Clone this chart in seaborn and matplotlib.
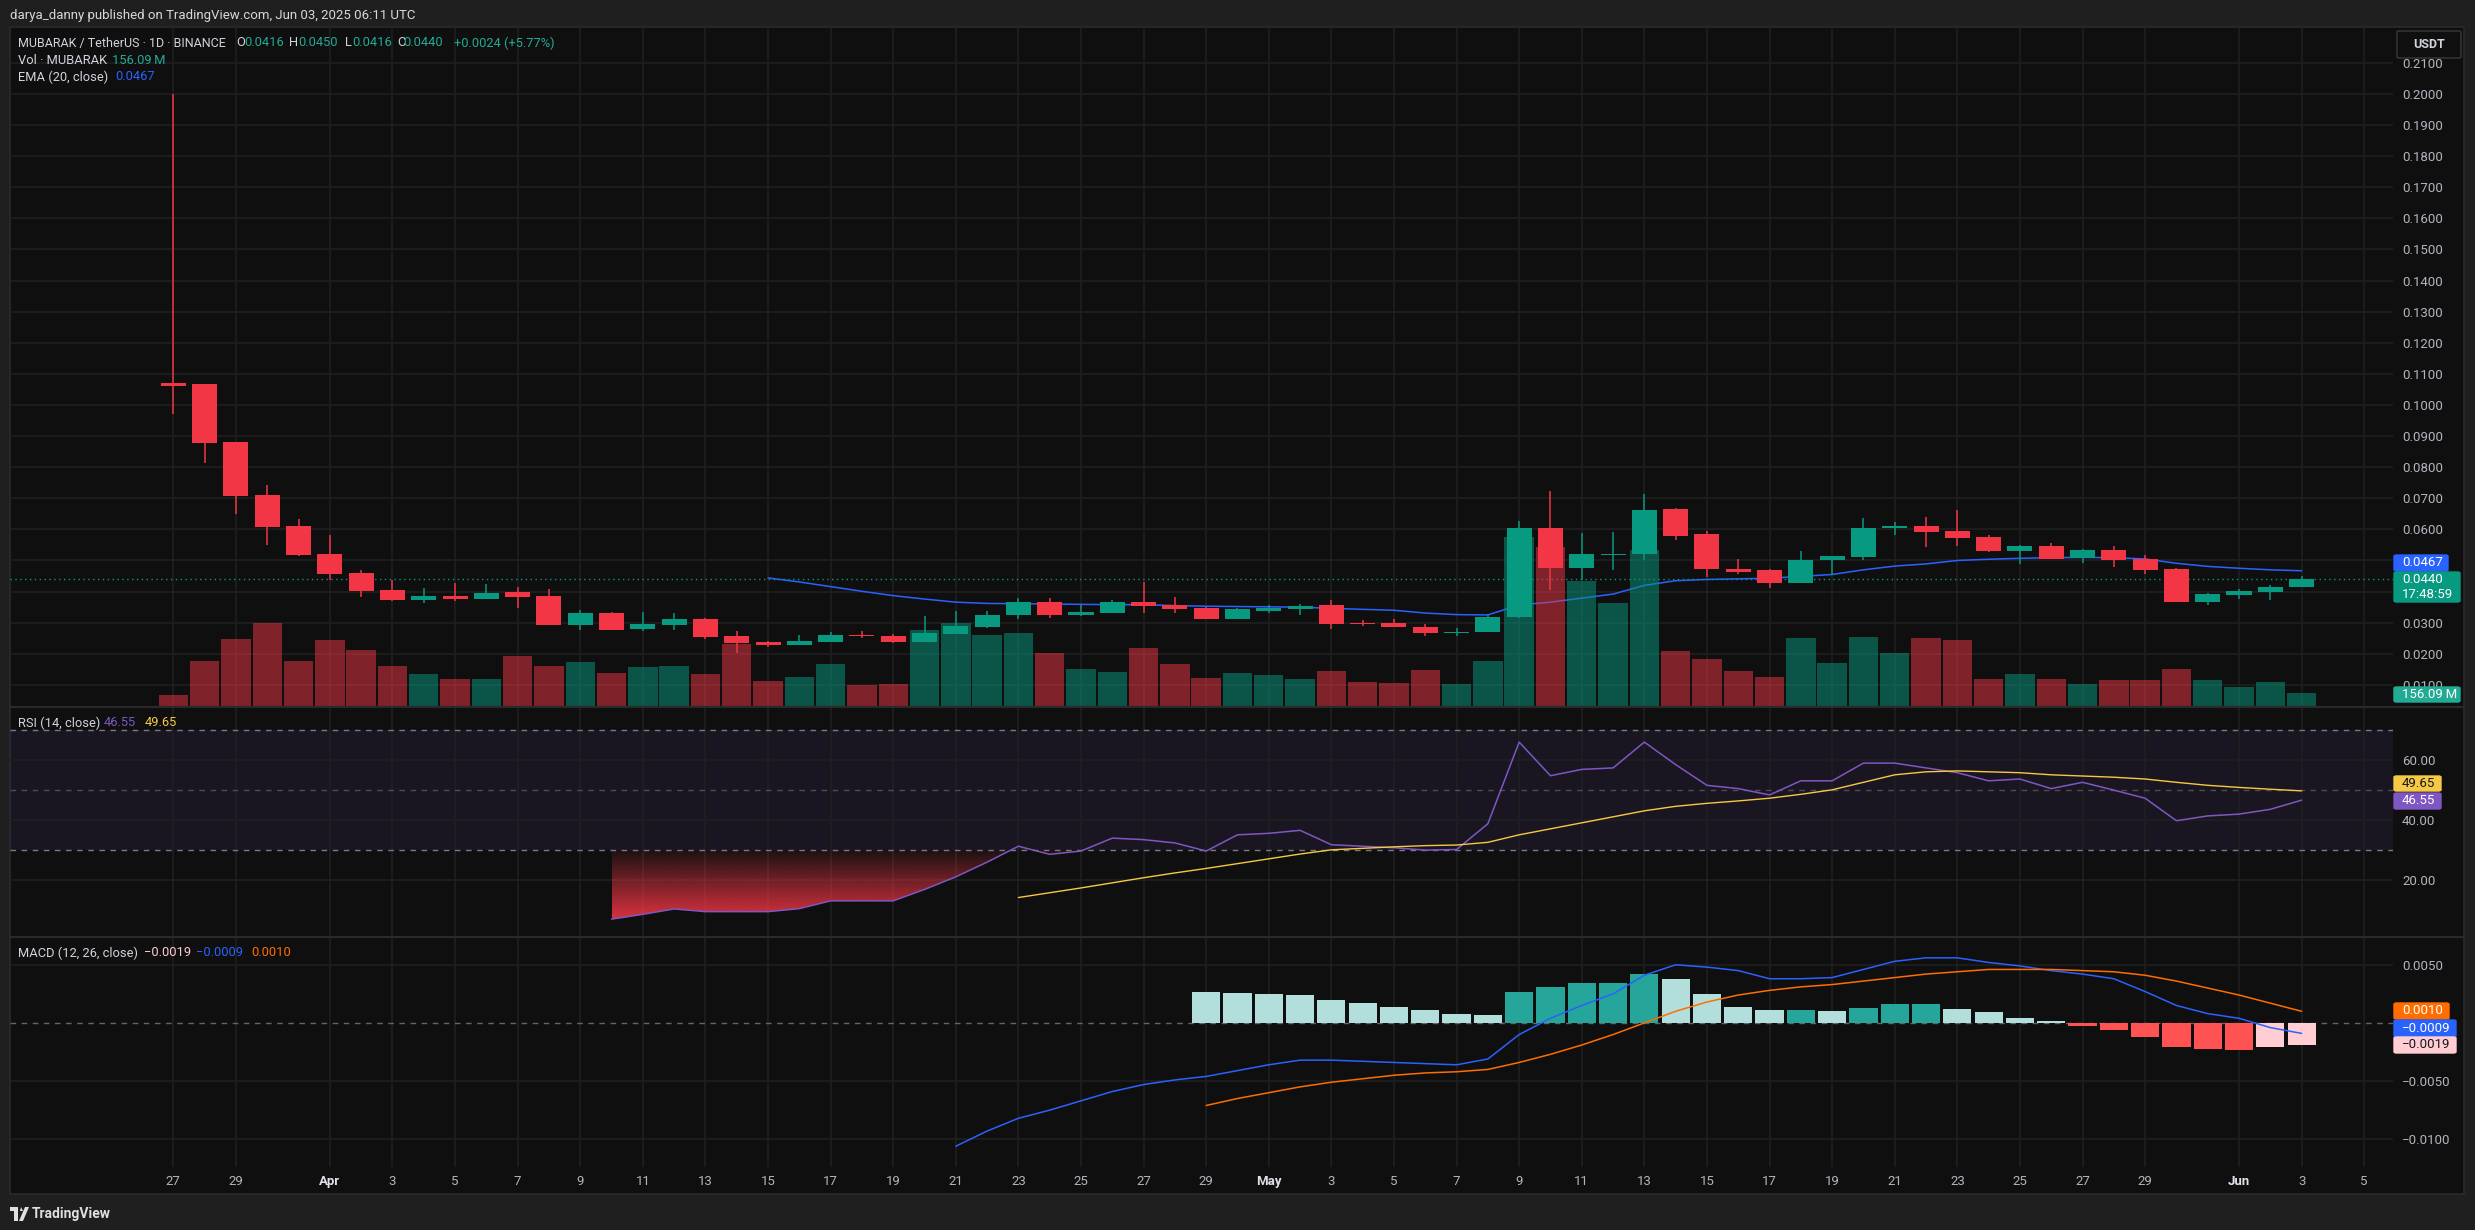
import numpy as np
import pandas as pd
import matplotlib
matplotlib.use("Agg")
import matplotlib.pyplot as plt
from matplotlib.patches import Rectangle, FancyBboxPatch, Polygon
from matplotlib.lines import Line2D
from matplotlib.colors import ListedColormap
from matplotlib.path import Path
import seaborn as sns

# ---------------- data ----------------
dates = pd.date_range("2025-03-27", "2025-06-03", freq="D")

open_ = [0.1072, 0.1066, 0.0882, 0.0711, 0.0611, 0.0520, 0.0459, 0.0404, 0.0372, 0.0385,
         0.0375, 0.0398, 0.0385, 0.0291, 0.0330, 0.0280, 0.0291, 0.0311, 0.0258, 0.0237,
         0.0227, 0.0237, 0.0260, 0.0257, 0.0237, 0.0263, 0.0286, 0.0325, 0.0366, 0.0324,
         0.0331, 0.0366, 0.0357, 0.0347, 0.0311, 0.0337, 0.0344, 0.0356, 0.0300, 0.0299,
         0.0286, 0.0267, 0.0270, 0.0317, 0.0603, 0.0477, 0.0517, 0.0520, 0.0667, 0.0584,
         0.0474, 0.0468, 0.0429, 0.0500, 0.0510, 0.0603, 0.0611, 0.0595, 0.0576, 0.0531,
         0.0547, 0.0509, 0.0534, 0.0505, 0.0473, 0.0367, 0.0390, 0.0400, 0.0416]
high = [0.2000, 0.1066, 0.0882, 0.0743, 0.0633, 0.0582, 0.0469, 0.0438, 0.0411, 0.0427,
        0.0424, 0.0414, 0.0408, 0.0340, 0.0333, 0.0333, 0.0330, 0.0314, 0.0272, 0.0240,
        0.0260, 0.0269, 0.0273, 0.0263, 0.0321, 0.0337, 0.0337, 0.0379, 0.0379, 0.0357,
        0.0373, 0.0431, 0.0383, 0.0350, 0.0347, 0.0357, 0.0360, 0.0372, 0.0308, 0.0312,
        0.0296, 0.0282, 0.0329, 0.0628, 0.0722, 0.0587, 0.0591, 0.0715, 0.0670, 0.0594,
        0.0506, 0.0474, 0.0529, 0.0516, 0.0635, 0.0624, 0.0640, 0.0663, 0.0582, 0.0550,
        0.0557, 0.0537, 0.0547, 0.0518, 0.0476, 0.0396, 0.0409, 0.0422, 0.0450]
low = [0.0970, 0.0814, 0.0650, 0.0550, 0.0514, 0.0438, 0.0382, 0.0369, 0.0362, 0.0369,
       0.0375, 0.0346, 0.0291, 0.0278, 0.0278, 0.0272, 0.0278, 0.0246, 0.0204, 0.0221,
       0.0227, 0.0237, 0.0250, 0.0234, 0.0237, 0.0263, 0.0282, 0.0311, 0.0315, 0.0321,
       0.0331, 0.0331, 0.0331, 0.0311, 0.0311, 0.0331, 0.0324, 0.0281, 0.0290, 0.0286,
       0.0257, 0.0257, 0.0270, 0.0314, 0.0406, 0.0436, 0.0471, 0.0500, 0.0567, 0.0448,
       0.0455, 0.0413, 0.0429, 0.0452, 0.0500, 0.0582, 0.0544, 0.0547, 0.0528, 0.0489,
       0.0505, 0.0493, 0.0480, 0.0457, 0.0367, 0.0358, 0.0377, 0.0374, 0.0416]
close = [0.1060, 0.0878, 0.0708, 0.0608, 0.0517, 0.0456, 0.0401, 0.0372, 0.0385, 0.0375,
         0.0395, 0.0382, 0.0291, 0.0330, 0.0278, 0.0295, 0.0311, 0.0253, 0.0235, 0.0227,
         0.0240, 0.0260, 0.0257, 0.0237, 0.0266, 0.0289, 0.0324, 0.0366, 0.0324, 0.0334,
         0.0366, 0.0354, 0.0344, 0.0311, 0.0344, 0.0347, 0.0354, 0.0296, 0.0297, 0.0286,
         0.0267, 0.0270, 0.0319, 0.0603, 0.0477, 0.0521, 0.0521, 0.0663, 0.0580, 0.0474,
         0.0464, 0.0429, 0.0503, 0.0513, 0.0603, 0.0611, 0.0592, 0.0573, 0.0531, 0.0547,
         0.0505, 0.0534, 0.0502, 0.0470, 0.0367, 0.0393, 0.0403, 0.0416, 0.0440]
volume_m = [134, 513, 758, 936, 513, 747, 635, 457, 368, 312,
            312, 569, 457, 502, 379, 446, 457, 368, 706, 294,
            338, 483, 249, 260, 862, 940, 806, 829, 606, 427,
            394, 661, 483, 327, 383, 360, 316, 405, 282, 271,
            416, 260, 517, 1899, 1787, 1408, 1163, 1754, 628, 539,
            405, 338, 773, 494, 784, 606, 769, 747, 312, 368,
            312, 256, 301, 301, 424, 301, 223, 279, 156.09]

# EMA(20) from Apr 15
ema20 = [0.0444, 0.0431, 0.0416, 0.0401, 0.0387, 0.0376, 0.0366, 0.0362, 0.0361, 0.0360,
         0.0359, 0.0358, 0.0358, 0.0355, 0.0353, 0.0352, 0.0351, 0.0350, 0.0346, 0.0343,
         0.0340, 0.0331, 0.0326, 0.0325, 0.0357, 0.0366, 0.0379, 0.0392, 0.0420, 0.0435,
         0.0439, 0.0441, 0.0443, 0.0449, 0.0455, 0.0470, 0.0482, 0.0489, 0.0500, 0.0504,
         0.0507, 0.0509, 0.0510, 0.0509, 0.0505, 0.0491, 0.0481, 0.0475, 0.0470, 0.0467]
# RSI(14) from Apr 10
rsi = [6.9, 8.5, 10.3, 9.4, 9.4, 9.4, 10.4, 13.0, 13.0, 13.0,
       16.8, 21.0, 25.9, 31.2, 28.5, 29.6, 33.9, 33.4, 32.3, 29.6,
       35.0, 35.5, 36.5, 31.7, 31.2, 30.7, 29.9, 30.1, 38.7, 65.9,
       54.7, 56.8, 57.3, 65.9, 58.4, 51.5, 50.4, 48.3, 53.0, 53.0,
       58.9, 58.9, 57.3, 55.7, 53.0, 53.6, 50.4, 52.5, 49.9, 47.2,
       39.7, 41.3, 41.9, 43.5, 46.55]
# RSI-based MA(14) from Apr 23
rsi_ma = [14.1, 15.7, 17.3, 19.0, 20.7, 22.3, 23.8, 25.4, 27.0, 28.6,
          30.0, 30.5, 31.0, 31.4, 31.6, 32.5, 35.0, 37.0, 39.0, 41.0,
          43.0, 44.5, 45.5, 46.3, 47.2, 48.5, 50.0, 52.5, 55.0, 56.0,
          56.3, 56.0, 55.7, 55.0, 54.6, 54.2, 53.6, 52.5, 51.5, 50.8,
          50.2, 49.65]
# MACD line from Apr 21
macd = [-0.0106, -0.0093, -0.0082, -0.0075, -0.0067, -0.0059, -0.0053, -0.0049, -0.0046, -0.0041,
        -0.0036, -0.0032, -0.0032, -0.0033, -0.0034, -0.0035, -0.0036, -0.0031, -0.0010, 0.0004,
        0.0015, 0.0025, 0.0041, 0.0050, 0.0048, 0.0045, 0.0038, 0.0038, 0.0039, 0.0046,
        0.0053, 0.0056, 0.0056, 0.0052, 0.0049, 0.0045, 0.0042, 0.0038, 0.0027, 0.0015,
        0.0008, 0.0004, -0.0004, -0.0009]
# signal line from Apr 29
signal = [-0.0071, -0.0065, -0.0060, -0.0055, -0.0051, -0.0048, -0.0045, -0.0043, -0.0042, -0.0040,
          -0.0034, -0.0027, -0.0019, -0.0010, 0.0000, 0.0010, 0.0018, 0.0024, 0.0028, 0.0031,
          0.0033, 0.0036, 0.0039, 0.0042, 0.0044, 0.0046, 0.0046, 0.0046, 0.0045, 0.0044,
          0.0041, 0.0036, 0.0030, 0.0024, 0.0017, 0.0010]
# histogram from Apr 29
hist = [0.0027, 0.0026, 0.0025, 0.0024, 0.0020, 0.0017, 0.0014, 0.0011, 0.0008, 0.0007,
        0.0027, 0.0031, 0.0034, 0.0034, 0.0042, 0.0038, 0.0025, 0.0014, 0.0011, 0.0011,
        0.0010, 0.0013, 0.0016, 0.0016, 0.0012, 0.0009, 0.0004, 0.0002, -0.0003, -0.0006,
        -0.0012, -0.0021, -0.0022, -0.0023, -0.0021, -0.0019]

price_ticks = [0.01, 0.02, 0.03, 0.04, 0.05, 0.06, 0.07, 0.08, 0.09, 0.10, 0.11,
               0.12, 0.13, 0.14, 0.15, 0.16, 0.17, 0.18, 0.19, 0.20, 0.21]
price_tick_labels = ["0.0100", "0.0200", "0.0300", "", "", "0.0600", "0.0700", "0.0800",
                     "0.0900", "0.1000", "0.1100", "0.1200", "0.1300", "0.1400", "0.1500",
                     "0.1600", "0.1700", "0.1800", "0.1900", "0.2000", "0.2100"]
rsi_ticks = [20, 40, 60]
rsi_tick_labels = ["20.00", "40.00", "60.00"]
macd_ticks = [0.005, -0.005, -0.010]
macd_tick_labels = ["0.0050", "\u22120.0050", "\u22120.0100"]
x_tick_days = [0, 2, 5, 7, 9, 11, 13, 15, 17, 19, 21, 23, 25, 27, 29, 31, 33,
               35, 37, 39, 41, 43, 45, 47, 49, 51, 53, 55, 57, 59, 61, 63, 66, 68, 70]
x_tick_labels = ["27", "29", "Apr", "3", "5", "7", "9", "11", "13", "15", "17", "19", "21",
                 "23", "25", "27", "29", "May", "3", "5", "7", "9", "11", "13", "15", "17",
                 "19", "21", "23", "25", "27", "29", "Jun", "3", "5"]

# ---------------- style ----------------
W, H = 2475, 1230
OUTER = "#1f1f1f"
BG = "#0f0f0f"
GRID = "#1f1f1f"
AXTXT = "#b2b5be"
LEG = "#d1d4dc"
UP = "#089981"
DN = "#F23645"
UPTXT = "#22ab94"

sns.set_theme(style="dark")
plt.rcParams['font.family'] = ['Roboto', 'DejaVu Sans']
plt.rcParams['axes.unicode_minus'] = True

fig = plt.figure(figsize=(W / 100, H / 100), dpi=100, facecolor=OUTER)


def fx(xp):
    return xp / W


def fy(yp):
    return 1 - yp / H


def add_ax(x0, y0, x1, y1):
    a = fig.add_axes([fx(x0), fy(y1), (x1 - x0) / W, (y1 - y0) / H])
    a.set_facecolor("none")
    for s in a.spines.values():
        s.set_visible(False)
    return a


# chart panel background
fig.add_artist(Rectangle((fx(10), fy(1194)), (2464 - 10) / W, (1194 - 27) / H,
                         transform=fig.transFigure, facecolor=BG, edgecolor="#2a2a2a",
                         lw=1.2, zorder=-10))

n = len(close)
x = np.arange(n)
XL = (-5.22, 70.92)
o = np.array(open_); c = np.array(close); hi = np.array(high); lo = np.array(low)
up = c >= o

# ---------------- price pane ----------------
ax_p = add_ax(10, 27, 2393, 707)
ax_v = ax_p.twinx()
ax_c = ax_p.twinx()
for a, z in ((ax_p, 1), (ax_v, 2), (ax_c, 3)):
    a.set_zorder(z)
    a.set_facecolor("none")
    for s in a.spines.values():
        s.set_visible(False)

PY = (0.0029, 0.2215)
ax_p.set_xlim(*XL); ax_p.set_ylim(*PY)
ax_p.set_xticks(x_tick_days)
ax_p.set_yticks(price_ticks)
ax_p.set_yticklabels(price_tick_labels)
ax_p.grid(True, color=GRID, lw=1.2)
ax_p.tick_params(axis="x", length=0, labelbottom=False)
ax_p.yaxis.tick_right()
ax_p.tick_params(axis="y", length=0, pad=6.5, labelsize=9.5, labelcolor=AXTXT,
                 right=False, left=False)

sns.lineplot(x=x[19:], y=ema20, ax=ax_p, color="#2962FF", linewidth=1.1)
ax_p.axhline(close[-1], color=UP, lw=1.0, ls=(0, (1, 2.5)))
ax_p.set_xlabel(""); ax_p.set_ylabel("")

vol_cols = [(8 / 255, 153 / 255, 129 / 255, 0.5) if u else (242 / 255, 54 / 255, 69 / 255, 0.5) for u in up]
ax_v.bar(x, volume_m, width=0.94, color=vol_cols, linewidth=0)
ax_v.set_ylim(0, 7582)
ax_v.set_yticks([]); ax_v.set_xlim(*XL)

cols = np.where(up, UP, DN)
ax_c.vlines(x, lo, hi, colors=cols, linewidth=1.1)
body_b = np.minimum(o, c)
body_h = np.maximum(np.abs(c - o), 0.00035)
ax_c.bar(x, body_h, bottom=body_b, width=0.8, color=cols, linewidth=0)
ax_c.set_ylim(*PY); ax_c.set_xlim(*XL)
ax_c.set_yticks([])
ax_v.tick_params(length=0, labelbottom=False, labelright=False)
ax_c.tick_params(length=0, labelbottom=False, labelright=False)

# ---------------- RSI pane ----------------
ax_r = add_ax(10, 707, 2393, 937)
RY = (0.95, 77.6)
ax_r.set_xlim(*XL); ax_r.set_ylim(*RY)
ax_r.set_xticks(x_tick_days); ax_r.set_yticks(rsi_ticks)
ax_r.set_yticklabels(rsi_tick_labels)
ax_r.grid(True, color=GRID, lw=1.2)
ax_r.tick_params(axis="x", length=0, labelbottom=False)
ax_r.yaxis.tick_right()
ax_r.tick_params(axis="y", length=0, pad=6.5, labelsize=9.5, labelcolor=AXTXT)
ax_r.axhspan(30, 70, color=(126 / 255, 87 / 255, 194 / 255, 0.10), lw=0, zorder=0.5)
for lvl, al in ((70, 1.0), (50, 0.55), (30, 1.0)):
    ax_r.axhline(lvl, color="#787B86", lw=1.0, ls=(0, (4, 4)), alpha=al, zorder=1)

xr = x[14:]
r = np.array(rsi)
fb = ax_r.fill_between(xr, r, 30, where=r < 30, interpolate=True,
                       facecolor="none", edgecolor="none")
paths = fb.get_paths()
if paths:
    clip = Path.make_compound_path(*paths)
    cm = np.zeros((256, 4))
    cm[:, 0] = 242 / 255; cm[:, 1] = 54 / 255; cm[:, 2] = 69 / 255
    cm[:, 3] = np.linspace(0.05, 0.9, 256)
    grad = np.linspace(1, 0, 256).reshape(-1, 1)
    img = ax_r.imshow(grad, extent=[xr[0], xr[-1], r.min(), 30], origin="lower",
                      aspect="auto", cmap=ListedColormap(cm), vmin=0, vmax=1, zorder=1.5)
    img.set_clip_path(clip, transform=ax_r.transData)
sns.lineplot(x=xr, y=rsi, ax=ax_r, color="#7E57C2", linewidth=1.1, zorder=3)
sns.lineplot(x=x[27:], y=rsi_ma, ax=ax_r, color="#F7C844", linewidth=1.0, zorder=3)
ax_r.set_xlim(*XL); ax_r.set_ylim(*RY)
ax_r.set_xlabel(""); ax_r.set_ylabel("")

# ---------------- MACD pane ----------------
ax_m = add_ax(10, 937, 2393, 1167)
MY = (-0.01239, 0.00739)
ax_m.set_xlim(*XL); ax_m.set_ylim(*MY)
ax_m.set_xticks(x_tick_days)
ax_m.set_xticklabels(x_tick_labels)
ax_m.set_yticks(macd_ticks); ax_m.set_yticklabels(macd_tick_labels)
ax_m.grid(True, color=GRID, lw=1.2)
ax_m.yaxis.tick_right()
ax_m.tick_params(axis="y", length=0, pad=6.5, labelsize=9.5, labelcolor=AXTXT)
ax_m.tick_params(axis="x", length=0, pad=5.5, labelsize=9.5, labelcolor=AXTXT)
for lab in ax_m.get_xticklabels():
    if lab.get_text() in ("Apr", "May", "Jun"):
        lab.set_color("#e0e3eb"); lab.set_fontweight("bold")
ax_m.axhline(0, color="#787B86", lw=1.0, ls=(0, (4, 4)), alpha=0.8, zorder=1)

xh = x[33:]
hcols = []
prev = None
for v in hist:
    rising = prev is None or v >= prev
    if v >= 0:
        hcols.append("#26A69A" if rising else "#B2DFDB")
    else:
        hcols.append("#FFCDD2" if rising else "#FF5252")
    prev = v
hcols[0] = "#B2DFDB"
ax_m.bar(xh, hist, width=0.9, color=hcols, linewidth=0, zorder=2)
sns.lineplot(x=x[25:], y=macd, ax=ax_m, color="#2962FF", linewidth=1.1, zorder=3)
sns.lineplot(x=xh, y=signal, ax=ax_m, color="#FF6D00", linewidth=1.1, zorder=3)
ax_m.set_xlim(*XL); ax_m.set_ylim(*MY)
ax_m.set_xlabel(""); ax_m.set_ylabel("")

# pane separators
for yy in (707, 937):
    fig.add_artist(Line2D([fx(10), fx(2464)], [fy(yy), fy(yy)], transform=fig.transFigure,
                          color="#2a2a2a", lw=1.6, zorder=5))

# ---------------- texts ----------------
FS = 9.5
HF = 9.3


def t(xp, yp, s, color=LEG, size=HF, **kw):
    fig.text(fx(xp), fy(yp), s, color=color, fontsize=size, va="center", ha="left", **kw)


t(10, 15, "darya_danny published on TradingView.com, Jun 03, 2025 06:11 UTC", color="#d8d8d8", size=9.5)
t(18, 43, "MUBARAK / TetherUS \u00b7 1D \u00b7 BINANCE", size=9.0)
for xp, s, col in ((236, "O", LEG), (244, "0.0416", UPTXT), (289, "H", LEG), (298, "0.0450", UPTXT),
                   (345, "L", LEG), (352, "0.0416", UPTXT), (397, "C", LEG), (403, "0.0440", UPTXT),
                   (454, "+0.0024 (+5.77%)", UPTXT)):
    t(xp, 43, s, color=col)
t(18, 60, "Vol \u00b7 MUBARAK")
t(112, 60, "156.09\u2009M", color=UPTXT)
t(18, 77, "EMA (20, close)")
t(115, 77, "0.0467", color="#2962FF")
t(18, 723, "RSI (14, close)")
t(104, 723, "46.55", color="#7E57C2")
t(145, 723, "49.65", color="#F7C844")
t(18, 953, "MACD (12, 26, close)")
t(144, 953, "\u22120.0019", color="#FFCDD2")
t(196, 953, "\u22120.0009", color="#2962FF")
t(251, 953, "0.0010", color="#FF6D00")


def badge(x0, y0, x1, y1, face, lines, tcol="white", edge=None):
    fig.add_artist(FancyBboxPatch((fx(x0), fy(y1)), (x1 - x0) / W, (y1 - y0) / H,
                                  boxstyle="round,pad=0,rounding_size=0.001",
                                  transform=fig.transFigure, facecolor=face,
                                  edgecolor=edge if edge else face, lw=1, zorder=20))
    k = len(lines)
    for i, s in enumerate(lines):
        yy = y0 + (y1 - y0) * (i + 0.5) / k
        fig.text(fx(x0 + 8), fy(yy), s, color=tcol, fontsize=FS, va="center", ha="left", zorder=21)


badge(2397, 31, 2461, 58, BG, [], edge="#3a3a3a")
fig.text(fx(2429), fy(44.5), "USDT", color=LEG, fontsize=9, va="center", ha="center", zorder=21,
         fontweight="bold")
badge(2394, 555, 2448, 571, "#2962FF", ["0.0467"])
badge(2394, 572, 2460, 602, UP, ["0.0440", "17:48:59"])
badge(2394, 687, 2460, 702, "#22ab94", ["156.09\u2009M"])
badge(2394, 776, 2441, 791, "#F7C844", ["49.65"], tcol="#131722")
badge(2394, 793, 2441, 809, "#7E57C2", ["46.55"])
badge(2394, 1003, 2449, 1019, "#FF6D00", ["0.0010"])
badge(2394, 1020, 2456, 1037, "#2962FF", ["\u22120.0009"])
badge(2394, 1037, 2456, 1053, "#FFCDD2", ["\u22120.0019"], tcol="#131722")

# TradingView logo + text at bottom
fig.add_artist(Rectangle((fx(10), fy(1211)), 8 / W, 4 / H, transform=fig.transFigure,
                         facecolor="#e0e0e0", lw=0, zorder=20))
fig.add_artist(Rectangle((fx(14), fy(1221)), 4 / W, 10 / H, transform=fig.transFigure,
                         facecolor="#e0e0e0", lw=0, zorder=20))
fig.add_artist(Polygon([(fx(21), fy(1207)), (fx(23), fy(1211)), (fx(20), fy(1211))],
                       closed=True, transform=fig.transFigure, facecolor="#e0e0e0", lw=0, zorder=20))
fig.add_artist(Polygon([(fx(25), fy(1207)), (fx(29), fy(1207)), (fx(23), fy(1221)), (fx(19), fy(1221))],
                       closed=True, transform=fig.transFigure, facecolor="#e0e0e0", lw=0, zorder=20))
t(32, 1214, "TradingView", color="#e0e0e0", size=10, fontweight="bold")

fig.savefig("out.png", dpi=100, facecolor=OUTER)
